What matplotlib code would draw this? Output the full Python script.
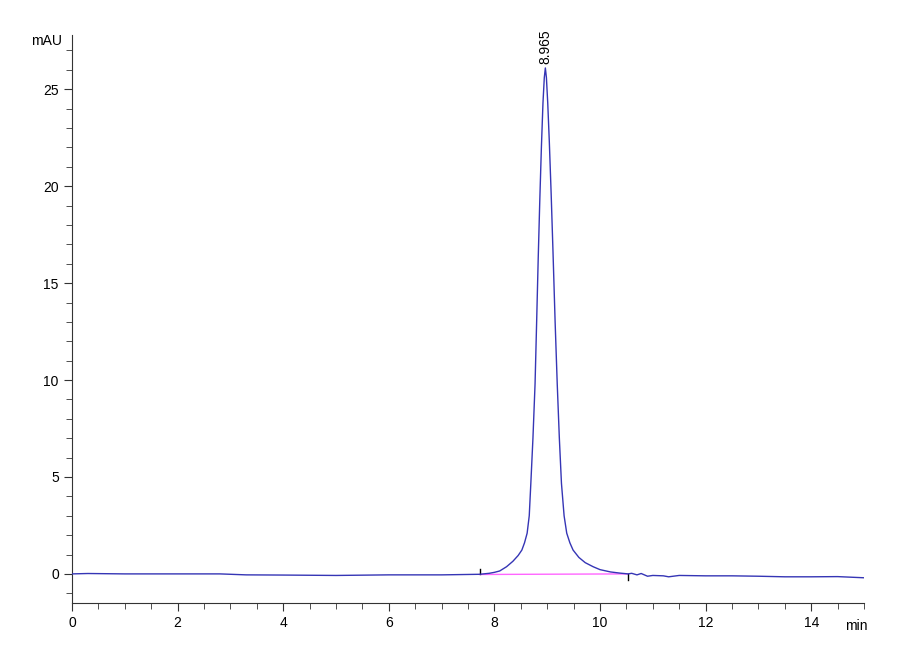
import matplotlib
matplotlib.use("Agg")
import matplotlib.pyplot as plt
from matplotlib.ticker import MultipleLocator

plt.rcParams['font.family'] = ['Liberation Sans', 'DejaVu Sans']

# chromatogram trace (min, mAU)
t_trace = [0.0, 0.3, 1.0, 2.0, 2.8, 3.3, 4.0, 5.0, 6.0, 7.0, 7.72,
           7.9, 8.0, 8.1, 8.23, 8.35, 8.45, 8.52, 8.57, 8.62, 8.66, 8.69,
           8.73, 8.77, 8.80, 8.83, 8.86, 8.89, 8.92, 8.945, 8.965,
           8.985, 9.01, 9.04, 9.075, 9.11, 9.15, 9.19, 9.23, 9.27, 9.32,
           9.37, 9.43, 9.49, 9.6, 9.72, 9.87, 10.0, 10.2, 10.38, 10.53,
           10.6, 10.7, 10.78, 10.9, 11.0, 11.2, 11.3, 11.5, 12.0, 12.5,
           13.0, 13.5, 14.0, 14.5, 15.0]
y_trace = [0.0, 0.02, 0.0, 0.0, 0.0, -0.05, -0.06, -0.08, -0.05, -0.05, -0.02,
           0.03, 0.08, 0.15, 0.37, 0.65, 0.95, 1.23, 1.6, 2.1, 3.0, 4.67,
           7.0, 9.8, 13.0, 16.3, 19.3, 22.0, 24.3, 25.6, 26.1,
           25.6, 24.3, 22.3, 19.6, 16.6, 13.0, 9.8, 7.0, 4.67, 3.0,
           2.1, 1.6, 1.23, 0.85, 0.58, 0.37, 0.22, 0.1, 0.04, 0.0,
           0.03, -0.05, 0.02, -0.12, -0.08, -0.1, -0.15, -0.08, -0.1, -0.1,
           -0.12, -0.15, -0.15, -0.14, -0.2]

# integration baseline
base_t = [7.72, 10.53]
base_y = [-0.03, 0.0]

peak_rt = 8.965
peak_h = 26.1
peak_label = "8.965"

fig = plt.figure(figsize=(9, 6.6), dpi=100)
ax = fig.add_axes([0.08, 0.0864, 0.88, 0.8606])

ax.plot(base_t, base_y, color='#ff66ff', lw=1.0, zorder=2)
ax.plot(t_trace, y_trace, color='#3535b5', lw=1.0, zorder=3)

# start / end markers of the integrated peak
ax.plot([base_t[0], base_t[0]], [base_y[0], base_y[0] + 0.3], color='black', lw=1.0)
ax.plot([base_t[1], base_t[1]], [base_y[1], base_y[1] - 0.3], color='black', lw=1.0)

ax.text(peak_rt, peak_h + 0.2, peak_label, rotation=90, ha='center', va='bottom', fontsize=10)

ax.set_xlim(0, 15)
ax.set_ylim(-1.5, 27.8)

ax.xaxis.set_major_locator(MultipleLocator(2))
ax.xaxis.set_minor_locator(MultipleLocator(0.5))
ax.yaxis.set_major_locator(MultipleLocator(5))
ax.yaxis.set_minor_locator(MultipleLocator(1))

for s in ['top', 'right']:
    ax.spines[s].set_visible(False)
for s in ['left', 'bottom']:
    ax.spines[s].set_color('#333333')

ax.tick_params(which='major', length=6, color='#333333', labelsize=10)
ax.tick_params(which='minor', length=4, color='#333333')

ax.text(-0.012, 0.99, 'mAU', transform=ax.transAxes, ha='right', va='center', fontsize=10)
ax.text(0.99, -0.04, 'min', transform=ax.transAxes, ha='center', va='center', fontsize=10)

fig.savefig('out.png', dpi=100)
